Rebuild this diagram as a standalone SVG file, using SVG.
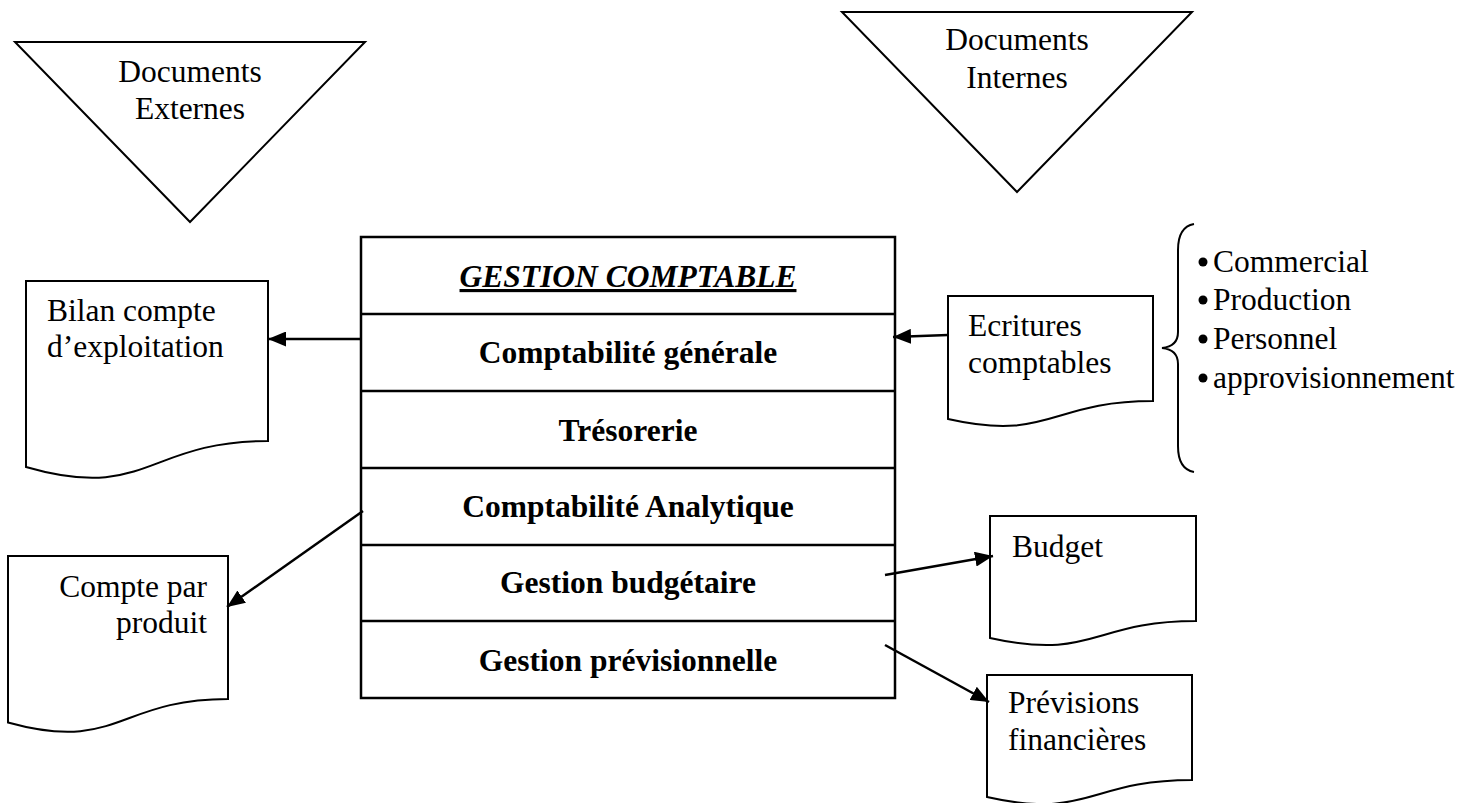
<svg xmlns="http://www.w3.org/2000/svg" width="1465" height="803" viewBox="0 0 1465 803">
  <style>
    .shape { fill: #ffffff; stroke: #000000; stroke-width: 2; stroke-linejoin: miter; }
    .tri { fill: none; stroke: #000000; stroke-width: 2; }
    .rule { stroke: #000000; stroke-width: 2.5; fill: none; }
    .txt { font-family: "Liberation Serif", "Times New Roman", serif; font-size: 31.5px; fill: #000000; }
    .mid { text-anchor: middle; }
    .end { text-anchor: end; }
    .bold { font-weight: bold; }
    .title { font-weight: bold; font-style: italic; text-decoration: underline; }
    .link { stroke: #000000; stroke-width: 2.5; fill: none; marker-end: url(#head); }
    .brace { fill: none; stroke: #000000; stroke-width: 2; }
  </style>
  <defs>
    <marker id="head" markerUnits="userSpaceOnUse" markerWidth="19" markerHeight="15" refX="18" refY="7.5" orient="auto">
      <path d="M0,0 L18,7.5 L0,15 Z" fill="#000000"/>
    </marker>
  </defs>

  <rect x="0" y="0" width="1465" height="803" fill="#ffffff"/>

  <!-- source triangles -->
  <g id="documents-externes">
    <polygon class="tri" points="15,42 365,42 190,222"/>
    <text class="txt mid" x="190" y="82">Documents</text>
    <text class="txt mid" x="190" y="119">Externes</text>
  </g>
  <g id="documents-internes">
    <polygon class="tri" points="842,12 1192,12 1017,192"/>
    <text class="txt mid" x="1017" y="50">Documents</text>
    <text class="txt mid" x="1017" y="88">Internes</text>
  </g>

  <!-- central table -->
  <g id="gestion-comptable">
    <rect class="rule" x="361" y="237" width="534" height="461"/>
    <line class="rule" x1="361" y1="314" x2="895" y2="314"/>
    <line class="rule" x1="361" y1="391" x2="895" y2="391"/>
    <line class="rule" x1="361" y1="468" x2="895" y2="468"/>
    <line class="rule" x1="361" y1="545" x2="895" y2="545"/>
    <line class="rule" x1="361" y1="621" x2="895" y2="621"/>
    <text class="txt mid title" x="628" y="287">GESTION COMPTABLE</text>
    <text class="txt mid bold" x="628" y="363">Comptabilité générale</text>
    <text class="txt mid bold" x="628" y="441">Trésorerie</text>
    <text class="txt mid bold" x="628" y="517">Comptabilité Analytique</text>
    <text class="txt mid bold" x="628" y="593">Gestion budgétaire</text>
    <text class="txt mid bold" x="628" y="671">Gestion prévisionnelle</text>
  </g>

  <!-- document shapes -->
  <g id="bilan">
    <path class="shape" d="M26,281 H268 V441 C147,441 147,502 26,467 Z"/>
    <text class="txt" x="47" y="321">Bilan compte</text>
    <text class="txt" x="47" y="357">d’exploitation</text>
  </g>
  <g id="compte-produit">
    <path class="shape" d="M8,556 H228 V699 C118,699 118,753 8,722.5 Z"/>
    <text class="txt end" x="207" y="597">Compte par</text>
    <text class="txt end" x="207" y="633">produit</text>
  </g>
  <g id="ecritures">
    <path class="shape" d="M948,296 H1153 V401 C1050,401 1050,442 948,419 Z"/>
    <text class="txt" x="968" y="336">Ecritures</text>
    <text class="txt" x="968" y="373">comptables</text>
  </g>
  <g id="budget">
    <path class="shape" d="M990,516 H1196 V621 C1093,621 1093,661 990,638 Z"/>
    <text class="txt" x="1012" y="557">Budget</text>
  </g>
  <g id="previsions">
    <path class="shape" d="M987,675 H1192 V780 C1089,780 1089,820 987,797 Z"/>
    <text class="txt" x="1008" y="713">Prévisions</text>
    <text class="txt" x="1008" y="750">financières</text>
  </g>

  <!-- departments list -->
  <g id="services">
    <path class="brace" d="M1194,224 C1183,226 1178,236 1178,250 V332 C1178,342 1172,347 1162,348 C1172,349 1178,354 1178,364 V446 C1178,460 1183,470 1194,472"/>
    <circle cx="1203" cy="262" r="4.5"/>
    <circle cx="1203" cy="300" r="4.5"/>
    <circle cx="1203" cy="339" r="4.5"/>
    <circle cx="1203" cy="378" r="4.5"/>
    <text class="txt" x="1213" y="272">Commercial</text>
    <text class="txt" x="1213" y="310">Production</text>
    <text class="txt" x="1213" y="349">Personnel</text>
    <text class="txt" x="1213" y="388">approvisionnement</text>
  </g>

  <!-- connectors -->
  <g id="connectors">
    <line class="link" x1="362" y1="339" x2="268" y2="339"/>
    <line class="link" x1="363" y1="511" x2="227" y2="607"/>
    <line class="link" x1="948" y1="335" x2="893" y2="337"/>
    <line class="link" x1="885" y1="575" x2="993" y2="556"/>
    <line class="link" x1="885" y1="645" x2="989" y2="702"/>
  </g>
</svg>
